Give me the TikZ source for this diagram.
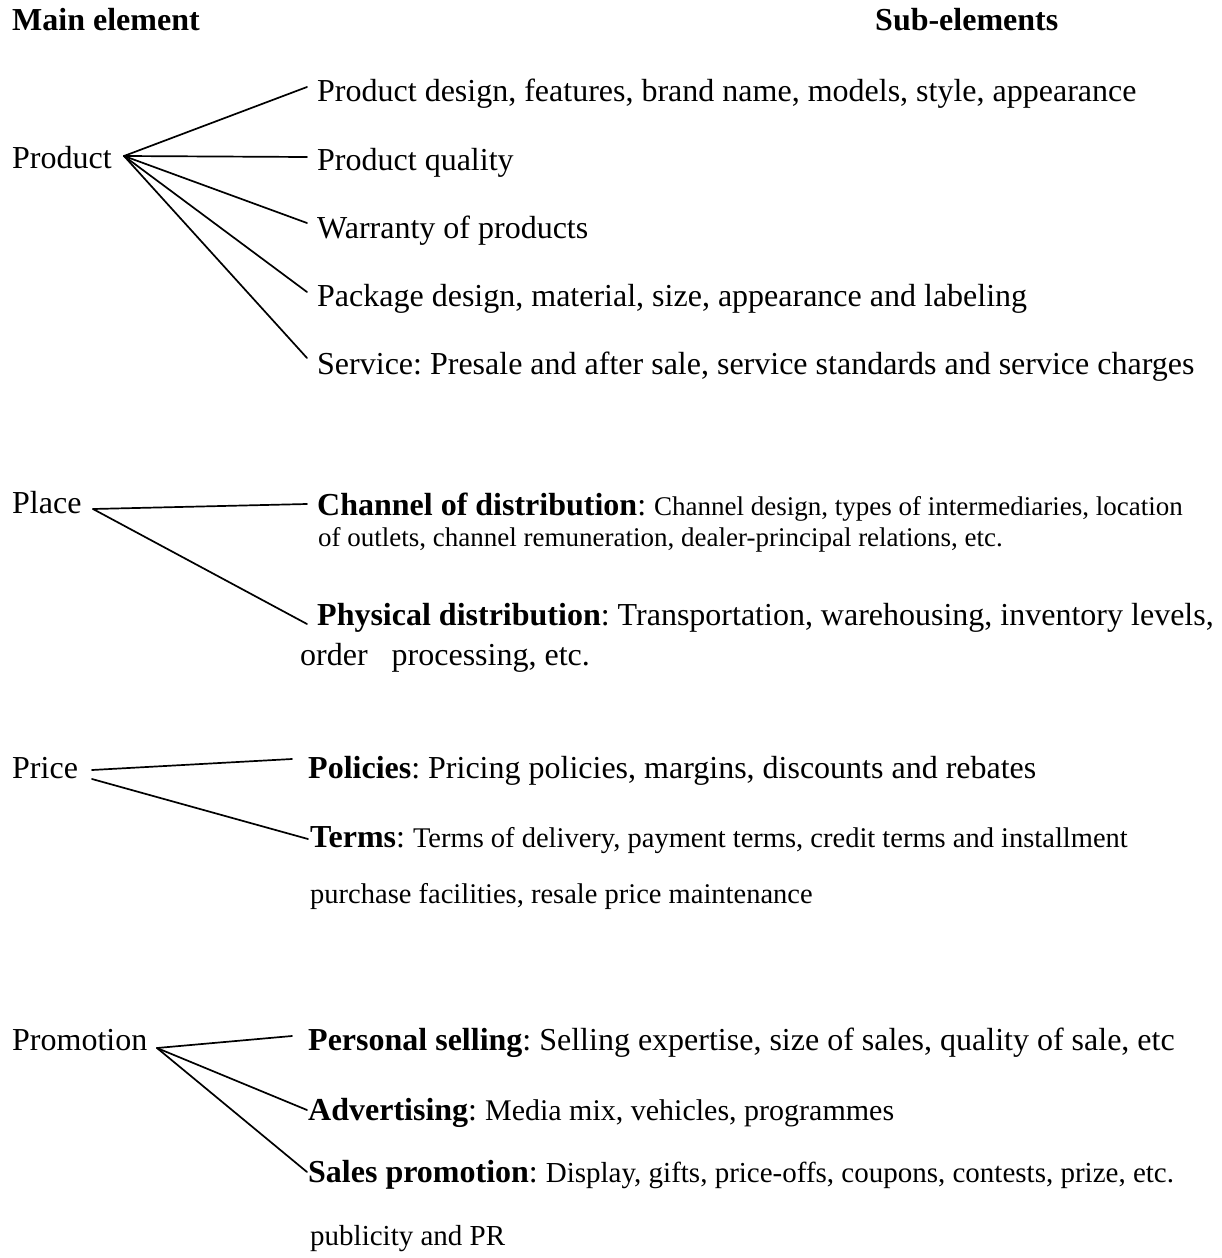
\documentclass[tikz,border=0pt]{standalone}
\usepackage{fontspec}
\setmainfont{Liberation Serif}
\tikzset{
  txt/.style={anchor=base west, inner sep=0pt, font=\frenchspacing\fontsize{32}{38}\selectfont},
  link/.style={line width=1.7pt, line cap=round},
}
\newcommand{\fs}[1]{\fontsize{#1}{#1}\selectfont}
\begin{document}
\begin{tikzpicture}[x=1pt,y=-1pt]
\useasboundingbox (0,0) rectangle (1221,1258);
% headers
\node[txt,font=\fs{32}\bfseries] (h1) at (12,30) {Main element};
\node[txt,font=\fs{32}\bfseries] (h2) at (875,30) {Sub-elements};
% Product
\node[txt] (prod) at (12,168) {Product};
\coordinate (prodhub) at (124,156);
\node[txt] (p1) at (317,101) {Product design, features, brand name, models, style, appearance};
\node[txt] (p2) at (317,170) {Product quality};
\node[txt] (p3) at (317,238) {Warranty of products};
\node[txt] (p4) at (317,306) {Package design, material, size, appearance and labeling};
\node[txt] (p5) at (317,374) {Service: Presale and after sale, service standards and service charges};
\coordinate (e1) at (307,87);
\coordinate (e2) at (307,157);
\coordinate (e3) at (307,223);
\coordinate (e4) at (307,292);
\coordinate (e5) at (307,358);
\foreach \e in {e1,e2,e3,e4,e5} \draw[link] (prodhub) -- (\e);
% Place
\node[txt] (place) at (12,513) {Place};
\coordinate (placehub) at (93,509);
\node[txt] (c1) at (317,515) {\textbf{Channel of distribution}: {\fs{27}Channel design, types of intermediaries, location}};
\node[txt,font=\frenchspacing\fs{27}] (c2) at (318,546) {of outlets, channel remuneration, dealer-principal relations, etc.};
\node[txt] (d1) at (317,625) {\textbf{Physical distribution}: Transportation, warehousing, inventory levels,};
\node[txt] (d2) at (300,665) {order\ \ \ processing, etc.};
\coordinate (f1) at (307,504);
\coordinate (f2) at (307,624);
\draw[link] (placehub) -- (f1);
\draw[link] (placehub) -- (f2);
% Price
\node[txt] (price) at (12,778) {Price};
\coordinate (pricehub1) at (92,770);
\coordinate (pricehub2) at (92,779);
\node[txt] (q1) at (308,778) {\textbf{Policies}: Pricing policies, margins, discounts and rebates};
\node[txt] (q2) at (310,847) {\textbf{Terms}: {\fs{28.5}Terms of delivery, payment terms, credit terms and installment}};
\node[txt,font=\frenchspacing\fs{28.5}] (q3) at (310,903) {purchase facilities, resale price maintenance};
\coordinate (g1) at (292,759);
\coordinate (g2) at (308,839);
\draw[link] (pricehub1) -- (g1);
\draw[link] (pricehub2) -- (g2);
% Promotion
\node[txt] (promo) at (12,1050) {Promotion};
\coordinate (promohub) at (157,1048);
\node[txt] (r1) at (308,1050) {\textbf{Personal selling}: Selling expertise, size of sales, quality of sale, etc};
\node[txt] (r2) at (308,1120) {\textbf{Advertising}: {\fs{30}Media mix, vehicles, programmes}};
\node[txt] (r3) at (308,1182) {\textbf{Sales promotion}: {\fs{29}Display, gifts, price-offs, coupons, contests, prize, etc.}};
\node[txt,font=\frenchspacing\fs{29}] (r4) at (310,1245) {publicity and PR};
\coordinate (k1) at (292,1036);
\coordinate (k2) at (307,1110);
\coordinate (k3) at (307,1172);
\foreach \e in {k1,k2,k3} \draw[link] (promohub) -- (\e);
\end{tikzpicture}
\end{document}
